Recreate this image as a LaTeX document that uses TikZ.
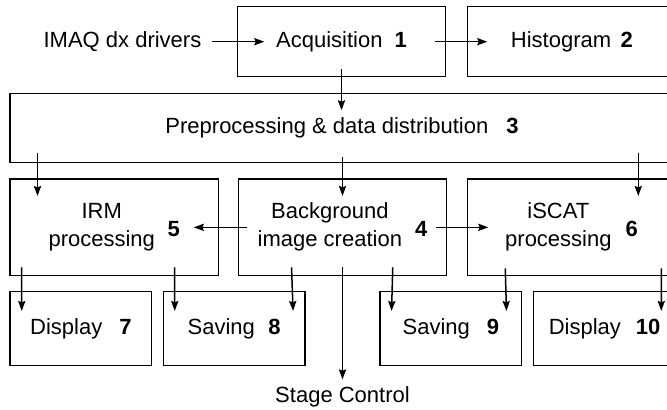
\documentclass[tikz,border=0pt]{standalone}
\usepackage{fontspec}
\setmainfont{Liberation Sans}
\usetikzlibrary{arrows.meta, calc, positioning}

\newcommand{\nr}[1]{\textbf{#1}}
\newcommand{\twoline}[2]{\begin{tabular}{@{}c@{}}#1\\#2\end{tabular}}

\tikzset{
  unit/.style={draw, rectangle, line width=0.75pt, inner sep=0pt, minimum width=104.2pt},
  small/.style={unit, minimum width=70.85pt, minimum height=37pt},
  flow/.style={->, line width=0.75pt}
}

\begin{document}
\begin{tikzpicture}[x=0.5pt, y=-0.5pt, >={Stealth[length=5pt, width=3.6pt, inset=0.7pt]},
    every node/.style={font=\fontsize{11}{14}\selectfont}]
  \useasboundingbox (0,0) rectangle (667,410);
  \clip (0,0) rectangle (667,410);

  % top row
  \node[unit, minimum height=35pt] (acq) at (341.5,41.7) {Acquisition\hspace{6pt}\nr{1}};
  \node[unit, minimum height=35pt] (hist) at (571.9,41.7) {Histogram\hspace{4.7pt}\nr{2}};
  \node[anchor=east, inner sep=5pt] (imaq) at (211.7,41.7) {IMAQ dx drivers};

  \node[unit, minimum width=332pt, minimum height=34.7pt] (pre) at (342,128)
    {Preprocessing \& data distribution\hspace{9pt}\nr{3}};

  % processing row
  \node[unit, minimum height=48.35pt] (irm) at (114.15,227.35)
    {\twoline{IRM}{processing}\hspace{6.3pt}\raisebox{-2pt}{\nr{5}}};
  \node[unit, minimum height=48.35pt] (bg) at (342.5,227.35)
    {\twoline{Background}{image creation}\hspace{6.5pt}\raisebox{-2pt}{\nr{4}}};
  \node[unit, minimum height=48.35pt] (isc) at (571.5,227.35)
    {\twoline{iSCAT}{processing}\hspace{7pt}\raisebox{-2pt}{\nr{6}}};

  % outputs
  \node[small] (disp7) at (80.85,328.7) {Display\hspace{8.5pt}\nr{7}};
  \node[small] (sav8) at (234.15,328.7) {Saving\hspace{6.8pt}\nr{8}};
  \node[small] (sav9) at (450.85,328.7) {Saving\hspace{8.5pt}\nr{9}};
  \node[small] (disp10) at (604.55,328.7) {Display\hspace{7.5pt}\nr{10}\hspace{3.5pt}};
  \node (stage) at (342.5,396.7) {Stage Control};

  \draw[flow] (imaq) -- ($(acq.west)+(27.7,0)$);
  \draw[flow] ($(acq.east)+(-11.7,0)$) -- ($(hist.west)+(20.3,0)$);
  \draw[flow] ($(acq.south)+(0,-8.4)$) -- ($(acq.south |- pre.north)+(0,17.7)$);

  \draw[flow] ($(pre.south -| irm.west)+(28.3,-10)$) -- ($(irm.north west)+(28.3,17.7)$);
  \draw[flow] ($(pre.south -| bg.north)+(0,-6)$) -- ($(bg.north)+(0,17.7)$);
  \draw[flow] ($(pre.south -| isc.west)+(171.7,-10)$) -- ($(isc.north west)+(171.7,17.7)$);

  \draw[flow] ($(bg.west)+(9.7,0)$) -- ($(irm.east)+(-25.3,0)$);
  \draw[flow] ($(bg.east)+(-11.7,0)$) -- ($(isc.west)+(21.7,0)$);

  \draw[flow] ($(irm.south west)+(12.5,-9)$) -- ($(disp7.north west)+(12.5,20)$);
  \draw[flow] ($(irm.south west)+(165.5,-9)$) -- ($(sav8.north west)+(12.2,20)$);
  \draw[flow] ($(bg.south west)+(54,-9)$) -- ($(sav8.north east)+(-12.7,20)$);
  \draw[flow] ($(bg.south)+(0,-9)$) -- (stage);
  \draw[flow] ($(bg.south east)+(-54.7,-9)$) -- ($(sav9.north west)+(12.3,20)$);
  \draw[flow] ($(isc.south west)+(38.7,-8)$) -- ($(sav9.north east)+(-16,20)$);
  \draw[flow] ($(isc.south west)+(194.7,-8)$) -- ($(disp10.north west)+(128.3,20)$);
\end{tikzpicture}
\end{document}
